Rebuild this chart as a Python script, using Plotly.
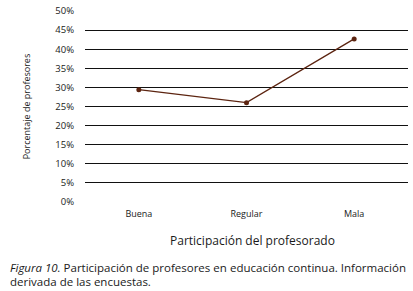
import plotly.graph_objects as go

categories = ["Buena", "Regular", "Mala"]
values = [0.294, 0.260, 0.427]
y_ticks = [0, 0.05, 0.10, 0.15, 0.20, 0.25, 0.30, 0.35, 0.40, 0.45, 0.50]
y_tick_labels = ["0%", "5%", "10%", "15%", "20%", "25%", "30%", "35%", "40%", "45%", "50%"]

FONT = "Open Sans"
fig = go.Figure()
fig.add_trace(go.Scatter(
    x=categories, y=values, mode="lines+markers",
    line=dict(color="#5c2410", width=1.3),
    marker=dict(color="#5c2410", size=5),
    showlegend=False, cliponaxis=False,
))
fig.update_layout(
    width=413, height=291,
    margin=dict(l=85, r=5, t=11, b=89),
    paper_bgcolor="white", plot_bgcolor="white",
    font=dict(family=FONT, size=9, color="#1a1a1a"),
    xaxis=dict(
        type="category", range=[-0.5, 2.5], showgrid=False, showline=False,
        zeroline=False, ticks="", ticklabelstandoff=5,
        tickfont=dict(size=9, family=FONT),
    ),
    yaxis=dict(
        range=[0, 0.5], tickvals=y_ticks, ticktext=y_tick_labels,
        showgrid=True, gridcolor="#111", gridwidth=1,
        zeroline=False, showline=False, ticks="", ticklabelstandoff=10,
        tickfont=dict(size=9.5, family=FONT),
    ),
)
fig.add_annotation(text="Porcentaje de profesores", xref="paper", yref="paper",
                   x=-0.18, y=0.5, textangle=-90, showarrow=False,
                   xanchor="center", yanchor="middle",
                   font=dict(size=9, family=FONT))
fig.add_annotation(text="Participación del profesorado", xref="paper", yref="paper",
                   x=0.52, y=-0.199, showarrow=False, xanchor="center", yanchor="middle",
                   font=dict(size=12, family=FONT))
fig.add_annotation(text="<i>Figura 10.</i> Participación de profesores en", xref="paper", yref="paper",
                   x=-0.238, y=-0.3455, showarrow=False, xanchor="left", yanchor="middle",
                   font=dict(size=11.5, family=FONT))
fig.add_annotation(text="educación continua. Información", xref="paper", yref="paper",
                   x=1.0, y=-0.3455, showarrow=False, xanchor="right", yanchor="middle",
                   font=dict(size=11.5, family=FONT))
fig.add_annotation(text="derivada de las encuestas.", xref="paper", yref="paper",
                   x=-0.238, y=-0.414, showarrow=False, xanchor="left", yanchor="middle",
                   font=dict(size=11.5, family=FONT))
fig.write_html("out.html", config={"displayModeBar": False},
               post_script="document.body.style.margin='0';")
